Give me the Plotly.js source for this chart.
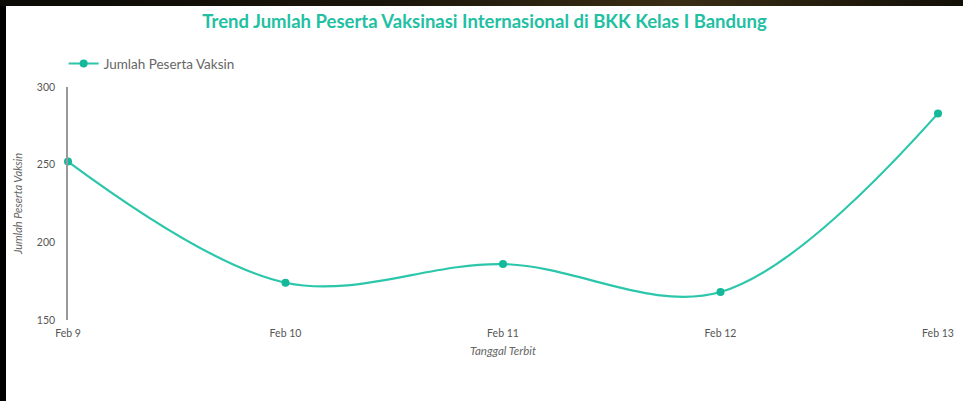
<!DOCTYPE html>
<html><head><meta charset="utf-8">
<script src="https://cdn.plot.ly/plotly-3.0.1.min.js"></script>
<style>
html,body{margin:0;padding:0;background:#000;width:963px;height:401px;overflow:hidden;}
#top{position:absolute;left:0;top:0;width:963px;height:6px;background:linear-gradient(90deg,#0b0a06,#1a150b 40%,#3a2d14 70%,#120f08);}
#chart{position:absolute;left:6px;top:6px;width:957px;height:395px;background:#fff;}
</style></head>
<body><div id="top"></div><div id="chart"></div>
<script>
const categories = ["Feb 9","Feb 10","Feb 11","Feb 12","Feb 13"];
const pesertaVaksin = [252, 174, 186, 168, 283];
const yTicks = [150, 200, 250, 300];

const font = "Lato, 'Open Sans', sans-serif";
const trace = {
  x: categories, y: pesertaVaksin, type: "scatter", mode: "lines+markers",
  name: "Jumlah Peserta Vaksin", cliponaxis: false,
  line: {color: "#2cc6ab", width: 2.2, shape: "spline", smoothing: 1},
  marker: {color: "#14b89b", size: 8}
};
const layout = {
  width: 957, height: 395,
  margin: {l: 62, r: 25, t: 81, b: 81},
  paper_bgcolor: "#fff", plot_bgcolor: "#fff",
  font: {family: font, color: "#555"},
  title: {text: "<b>Trend Jumlah Peserta Vaksinasi Internasional di BKK Kelas I Bandung</b>",
    font: {family: font, size: 18.5, color: "#22c0a2"}, x: 0.5, xanchor: "center", y: 0.96, yanchor: "middle"},
  showlegend: true,
  legend: {x: -0.005, y: 1.1, xanchor: "left", yanchor: "middle", orientation: "h",
    font: {size: 13.5, color: "#666", family: font}},
  xaxis: {type: "category", range: [0, 4], showgrid: false, zeroline: false, showline: false,
    ticks: "outside", ticklen: 3, tickcolor: "rgba(0,0,0,0)", tickfont: {size: 10.5, color: "#555"},
    title: {text: "<i>Tanggal Terbit</i>", font: {size: 11.5, color: "#666"}, standoff: 9}},
  yaxis: {range: [150, 300], tickvals: yTicks, showgrid: false, zeroline: false,
    showline: true, linecolor: "#999", linewidth: 1.8, ticks: "outside", ticklen: 9, tickcolor: "rgba(0,0,0,0)",
    tickfont: {size: 10.5, color: "#555"},
    title: {text: "<i>Jumlah Peserta Vaksin</i>", font: {size: 11, color: "#666"}, standoff: 12}}
};
Plotly.newPlot("chart", [trace], layout, {displayModeBar: false, staticPlot: true});
</script></body></html>
